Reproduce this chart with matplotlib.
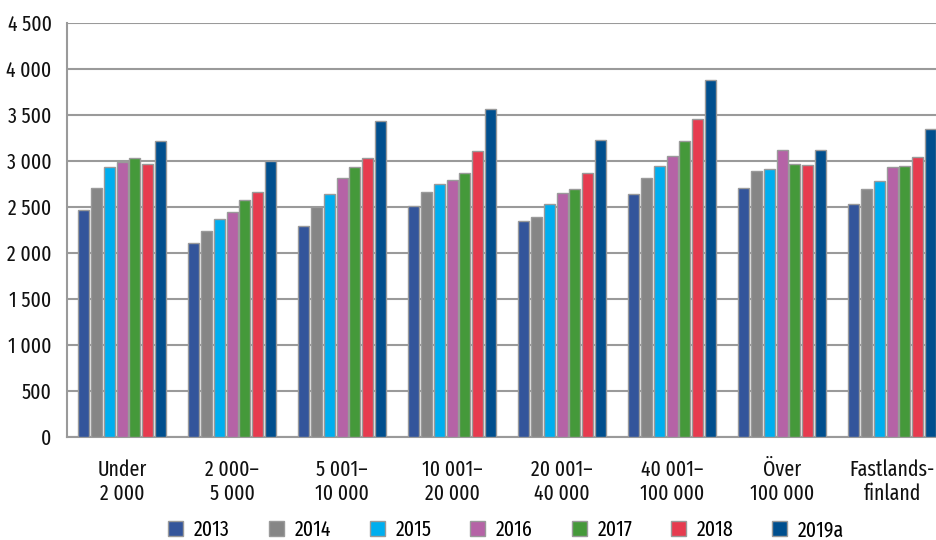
import numpy as np
import matplotlib.pyplot as plt

plt.rcParams['font.family'] = ['Fira Sans Extra Condensed', 'Fira Sans Condensed', 'DejaVu Sans']

groups = ['Under\n2 000', '2 000–\n5 000', '5 001–\n10 000', '10 001–\n20 000',
          '20 001–\n40 000', '40 001–\n100 000', 'Över\n100 000', 'Fastlands-\nfinland']
years = ['2013', '2014', '2015', '2016', '2017', '2018', '2019a']

v2013 = [2467, 2112, 2297, 2514, 2351, 2641, 2703, 2536]
v2014 = [2703, 2243, 2500, 2663, 2391, 2812, 2891, 2699]
v2015 = [2938, 2370, 2641, 2746, 2529, 2942, 2917, 2783]
v2016 = [2986, 2442, 2819, 2790, 2652, 3054, 3116, 2931]
v2017 = [3036, 2580, 2938, 2866, 2696, 3214, 2971, 2942]
v2018 = [2964, 2667, 3036, 3109, 2870, 3457, 2957, 3047]
v2019a = [3214, 3004, 3438, 3569, 3228, 3877, 3116, 3351]

series = [v2013, v2014, v2015, v2016, v2017, v2018, v2019a]
colors = ['#34559b', '#868686', '#00aeef', '#b563a6', '#45993a', '#e63b4f', '#004f8e']

fig = plt.figure(figsize=(9.36, 5.4), dpi=100)
# axes run a little past the right edge of the figure
ax = fig.add_axes([67 / 936, 1 - 437 / 540, 880 / 936, 414 / 540])

x = np.arange(len(groups))
pitch = 0.118
width = 0.1
for i, (vals, c) in enumerate(zip(series, colors)):
    ax.bar(x + (i - 3) * pitch, vals, width, color=c, edgecolor='#9a9a9a',
           linewidth=1.0, label=years[i], zorder=3)

ax.set_xlim(-0.5, len(groups) - 0.5)
ax.set_ylim(0, 4500)
ticks = np.arange(0, 4501, 500)
ax.set_yticks(ticks)
ax.set_yticklabels([f'{int(t):,}'.replace(',', ' ') for t in ticks])
ax.yaxis.grid(True, color='#9a9a9a', linewidth=1.5, zorder=0)
ax.set_axisbelow(True)

ax.set_xticks(x)
ax.set_xticklabels(groups, linespacing=1.15)
ax.tick_params(axis='x', length=0, pad=16, labelsize=15.5, labelcolor='#111111')
ax.tick_params(axis='y', length=0, pad=11, labelsize=15.5, labelcolor='#111111')

for side in ['top', 'right']:
    ax.spines[side].set_visible(False)
for side in ['left', 'bottom']:
    ax.spines[side].set_color('#9a9a9a')
    ax.spines[side].set_linewidth(1.5)

fig.legend(loc='lower center', bbox_to_anchor=(0.541, -0.037), ncol=7, frameon=False,
           fontsize=15.5, handlelength=0.7, handleheight=0.65, columnspacing=1.8,
           handletextpad=0.5)

fig.savefig('out.png', dpi=100)
